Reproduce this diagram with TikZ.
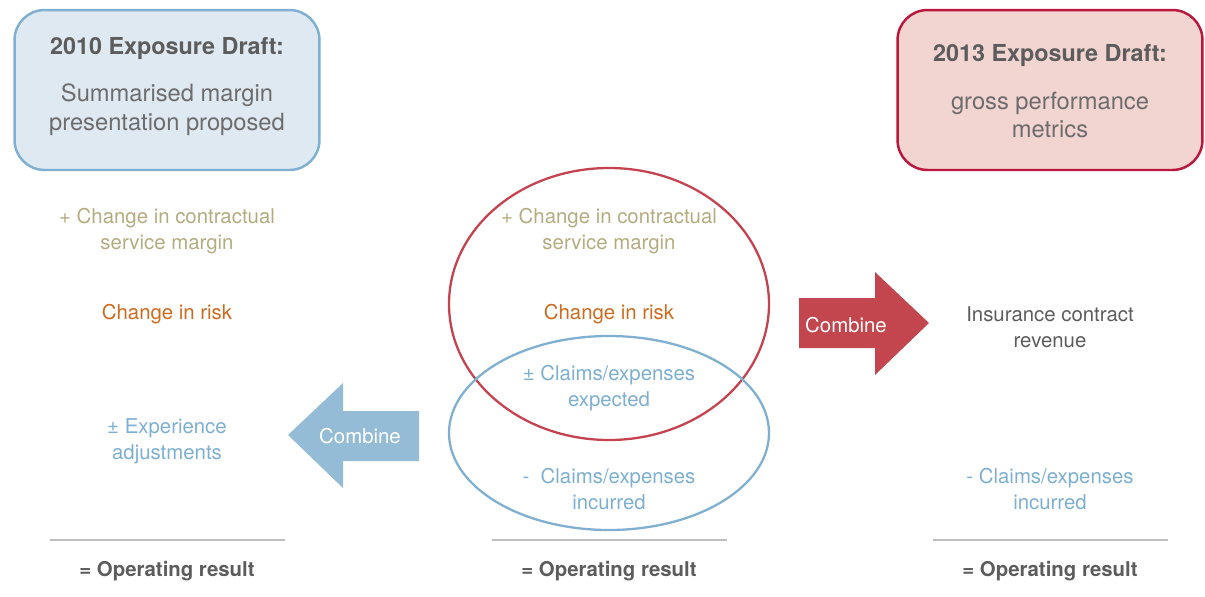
\documentclass[tikz,border=0pt]{standalone}
\usepackage{fontspec}
\setmainfont{TeX Gyre Heros}
\definecolor{boxblue}{HTML}{DFE9F2}
\definecolor{lineblue}{HTML}{7FB0D1}
\definecolor{boxred}{HTML}{F2D4D0}
\definecolor{linered}{HTML}{B9173C}
\definecolor{ellred}{HTML}{C4434F}
\definecolor{arrowblue}{HTML}{95BCD6}
\definecolor{arrowred}{HTML}{C3464F}
\definecolor{khaki}{HTML}{B5AB80}
\definecolor{riskorange}{HTML}{CF6A1F}
\definecolor{textblue}{HTML}{7DAFD2}
\definecolor{textgray}{HTML}{5C5C5C}
\definecolor{rulegray}{HTML}{BEBEBE}
\tikzset{
  item/.style={align=center, inner sep=0pt, font=\fontsize{11.6}{14.7}\selectfont},
  title/.style={align=center, inner sep=0pt, text=textgray, font=\fontsize{13.3}{16}\selectfont\bfseries},
  boxtext/.style={align=center, inner sep=0pt, text=textgray!90, font=\fontsize{13.5}{16.4}\selectfont},
  result/.style={inner sep=0pt, text=textgray, font=\fontsize{11.6}{14}\selectfont\bfseries},
  combine/.style={inner sep=0pt, text=white, font=\fontsize{11.6}{14}\selectfont},
}
\begin{document}
\begin{tikzpicture}[x=0.02cm, y=-0.02cm]
  \useasboundingbox (0,0) rectangle (1205,596);
  % headline boxes
  \node[draw=lineblue, fill=boxblue, line width=1.4pt, rounded corners=0.6cm,
        minimum width=6.1cm, minimum height=3.2cm] (box10) at (167,90) {};
  \node[draw=linered, fill=boxred, line width=1.4pt, rounded corners=0.6cm,
        minimum width=6.1cm, minimum height=3.2cm] (box13) at (1050,90) {};
  \node[title] (title10) at (167,49) {2010 Exposure Draft:};
  \node[boxtext] (body10) at (167,110) {Summarised margin\\presentation proposed};
  \node[title] (title13) at (1050,56) {2013 Exposure Draft:};
  \node[boxtext] (body13) at (1050,115) {gross performance\\metrics};
  % left column
  \node[item, text=khaki] (csmL) at (167,231) {+ Change in contractual\\service margin};
  \node[item, text=riskorange] (riskL) at (167,314) {Change in risk};
  \node[item, text=textblue] (expL) at (167,441) {± Experience\\adjustments};
  % middle column
  \draw[ellred, line width=1.3pt] (609,304) ellipse [x radius=160, y radius=136];
  \draw[lineblue, line width=1.3pt] (609,433) ellipse [x radius=160, y radius=97];
  \node[item, text=khaki] (csmM) at (609,231) {+ Change in contractual\\service margin};
  \node[item, text=riskorange] (riskM) at (609,314) {Change in risk};
  \node[item, text=textblue] (expM) at (609,388) {± Claims/expenses\\expected};
  \node[item, text=textblue] (incM) at (609,489) {-~~Claims/expenses\\incurred};
  % right column
  \node[item, text=textgray] (revR) at (1050,327) {Insurance contract\\revenue};
  \node[item, text=textblue] (incR) at (1050,489) {- Claims/expenses\\incurred};
  % combine arrows
  \fill[arrowblue] (288,435) -- (343,383) -- (343,411) -- (419,411)
    -- (419,461) -- (343,461) -- (343,488) -- cycle;
  \node[combine] (combL) at (360,436) {Combine};
  \fill[arrowred] (799,298) -- (875,298) -- (875,272) -- (929,323)
    -- (875,375) -- (875,348) -- (799,348) -- cycle;
  \node[combine] (combR) at (846,325) {Combine};
  % totals
  \foreach \cx/\nm in {167/L, 609/M, 1050/R} {
    \draw[rulegray, line width=1.1pt] (\cx-117,540) -- (\cx+118,540);
    \node[result] (res\nm) at (\cx,571) {= Operating result};
  }
\end{tikzpicture}
\end{document}
